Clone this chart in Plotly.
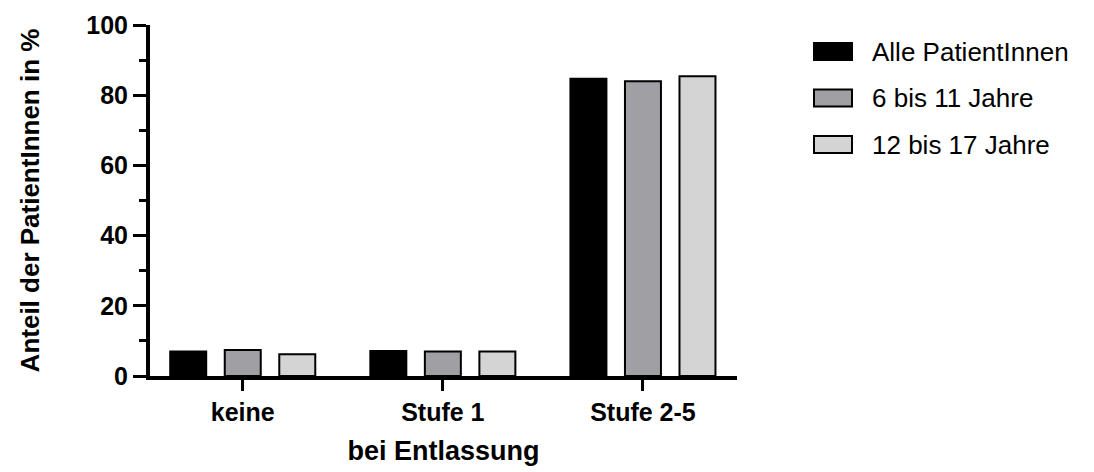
import plotly.graph_objects as go

categories = ["keine", "Stufe 1", "Stufe 2-5"]
series_names = ["Alle PatientInnen", "6 bis 11 Jahre", "12 bis 17 Jahre"]
alle = [7.0, 7.1, 84.7]
jung = [7.4, 7.0, 84.0]
alt = [6.2, 7.0, 85.4]
colors = ["#000000", "#A09FA4", "#D4D4D4"]

FONT = "Arial, Liberation Sans, sans-serif"

# the page body adds an 8px offset, so figure coordinates = screen - 8
OFF = 8
W, H = 1094, 472
ML, MR, MT, MB = 150 - OFF, 1094 - (737 - OFF), 25 - OFF, 472 - (376 - OFF)
PW, PH = W - ML - MR, H - MT - MB


def px_to_paper_x(px):
    return (px - OFF - ML) / PW


def px_to_paper_y(py):
    return (H - MB - (py - OFF)) / PH


fig = go.Figure()
for name, vals, col in zip(series_names, [alle, jung, alt], colors):
    fig.add_trace(go.Bar(
        x=categories, y=vals, name=name,
        marker=dict(color=col, line=dict(color="#000000", width=2)),
        showlegend=False,
    ))

# custom legend (wide rectangular swatches like the reference)
sw_left, sw_right, sw_h, row0_top, row_step, text_x = 814, 852, 17, 43, 46.5, 870
shapes = []
annotations = []
for i, (name, col) in enumerate(zip(series_names, colors)):
    top = row0_top + i * row_step
    shapes.append(dict(
        type="rect", xref="paper", yref="paper",
        x0=px_to_paper_x(sw_left), x1=px_to_paper_x(sw_right),
        y0=px_to_paper_y(top + sw_h), y1=px_to_paper_y(top),
        fillcolor=col, line=dict(color="#000000", width=2),
    ))
    annotations.append(dict(
        xref="paper", yref="paper",
        x=px_to_paper_x(text_x), y=px_to_paper_y(top + sw_h / 2),
        xanchor="left", yanchor="middle", showarrow=False,
        text=name, font=dict(family=FONT, size=26, color="black"),
    ))

fig.update_layout(
    width=W, height=H,
    margin=dict(l=ML, r=MR, t=MT, b=MB, autoexpand=False),
    paper_bgcolor="white", plot_bgcolor="white",
    barmode="group", bargap=0.1825, bargroupgap=0.34,
    font=dict(family=FONT, color="black"),
    showlegend=False,
    shapes=shapes,
    annotations=annotations,
    xaxis=dict(
        range=[-0.4635, 2.47],
        showline=True, linecolor="black", linewidth=4,
        ticks="outside", ticklen=11, tickwidth=3, tickcolor="black",
        tickfont=dict(family=FONT, size=25, color="black", weight="bold"),
        title=dict(text="bei Entlassung", standoff=17,
                   font=dict(family=FONT, size=27, color="black", weight="bold")),
        showgrid=False, zeroline=False, automargin=False,
    ),
    yaxis=dict(
        range=[0, 100],
        tickvals=[0, 20, 40, 60, 80, 100],
        showline=True, linecolor="black", linewidth=4,
        ticks="outside", ticklen=13, tickwidth=3, tickcolor="black",
        minor=dict(dtick=10, ticks="outside", ticklen=7, tickwidth=3, tickcolor="black"),
        tickfont=dict(family=FONT, size=25, color="black", weight="bold"),
        title=dict(text="Anteil der PatientInnen in %", standoff=40,
                   font=dict(family=FONT, size=26, color="black", weight="bold")),
        showgrid=False, zeroline=False, automargin=False,
    ),
)

fig.write_html("out.html")
